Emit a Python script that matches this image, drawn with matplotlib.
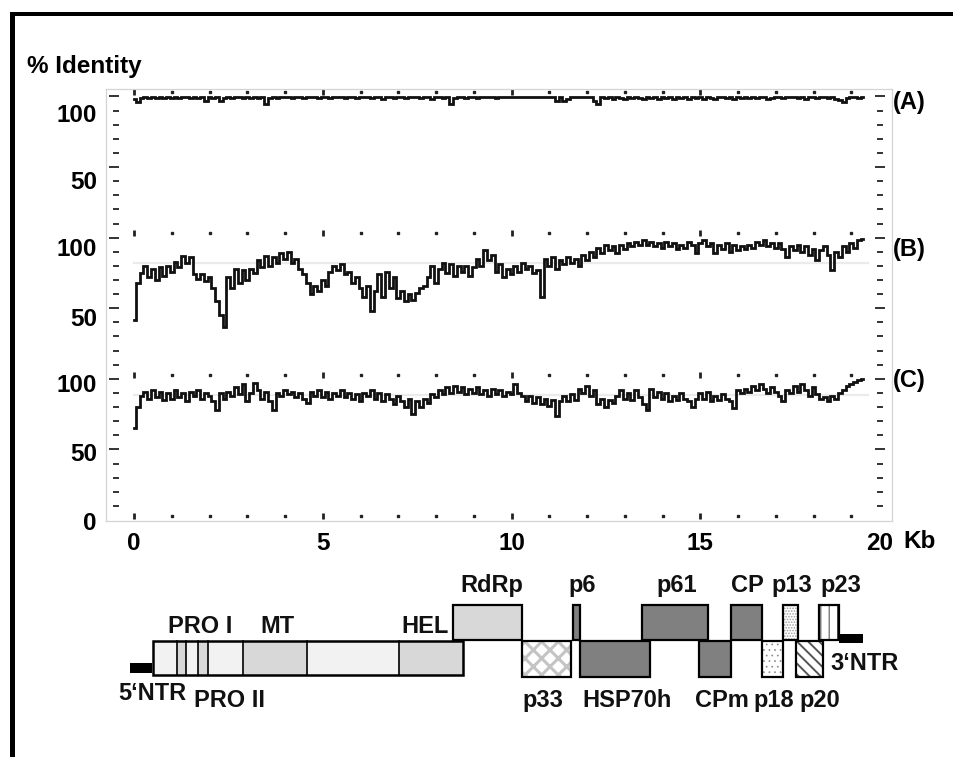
import numpy as np
import matplotlib
matplotlib.use("Agg")
import matplotlib.pyplot as plt
from matplotlib.patches import Rectangle
from matplotlib.transforms import ScaledTranslation

plt.rcParams['font.family'] = ['Liberation Sans', 'DejaVu Sans']
plt.rcParams['font.weight'] = 'bold'

# ---------------- data ----------------
STEP_KB = 0.1  # sliding-window step of the identity profiles

identity_A = [
    98, 96, 99, 99.5, 99, 99.5, 99, 99.5, 99, 99.5,
    99, 99.5, 99, 99.5, 99.5, 99, 99.5, 99, 99.5, 97,
    99.5, 99, 99.5, 97, 99, 99.5, 99, 99.5, 99.5, 99,
    99.5, 99, 99.5, 99, 99.5, 95, 99, 99.5, 99, 99.5,
    99.5, 99.5, 99, 99.5, 99.5, 99, 99.5, 99.5, 99.5, 99,
    99.5, 99.5, 99, 99.5, 99.5, 99.5, 99, 99.5, 99.5, 99,
    99.5, 99.5, 99.5, 99, 99.5, 99.5, 98.5, 99.5, 99.5, 99,
    99.5, 99.5, 99, 99.5, 99.5, 99.5, 99, 99.5, 99.5, 98.5,
    99.5, 99.5, 99, 99.5, 94.5, 99, 99.5, 99.5, 99, 99.5,
    99.5, 99, 99.5, 99.5, 99.5, 99.5, 99, 99.5, 99.5, 99.5,
    99.5, 99.5, 99.5, 99.5, 99.5, 99.5, 99.5, 99.5, 99.5, 99.5,
    99.5, 99.5, 97, 99.5, 96.5, 98, 99.5, 99.5, 99.5, 99.5,
    99.5, 99.5, 97, 95, 99.5, 99, 99.5, 98.5, 99.5, 99,
    98.5, 99.5, 99, 99.5, 99, 98.5, 99.5, 99, 99.5, 98.5,
    99.5, 99, 99.5, 98.5, 99.5, 99, 99.5, 98.5, 99.5, 99,
    99.5, 98.5, 99.5, 99, 98.5, 99.5, 99.5, 99, 99.5, 98.5,
    99.5, 99, 99.5, 99, 99.5, 99, 99.5, 99.5, 98.5, 99,
    99.5, 99.5, 99, 99.5, 99.5, 99.5, 99, 99.5, 98.5, 99.5,
    99.5, 99, 99.5, 99.5, 99, 99.5, 98.5, 97.5, 96, 99,
    99.5, 99.5, 99, 99.5,
]

identity_B = [
    42, 68, 75, 80, 72, 78, 70, 79, 73, 80,
    76, 83, 79, 87, 82, 86, 74, 71, 74, 69,
    72, 64, 55, 45, 37, 72, 64, 78, 68, 77,
    70, 78, 75, 84, 79, 87, 80, 86, 82, 89,
    85, 90, 82, 85, 78, 74, 68, 60, 66, 62,
    70, 66, 76, 80, 77, 81, 74, 76, 68, 72,
    64, 58, 66, 48, 62, 74, 58, 76, 64, 72,
    57, 62, 55, 60, 56, 61, 64, 66, 72, 80,
    68, 78, 82, 75, 81, 73, 80, 76, 80, 73,
    79, 85, 80, 91, 84, 88, 76, 81, 72, 78,
    74, 80, 76, 82, 78, 80, 75, 77, 58, 85,
    80, 86, 78, 84, 81, 86, 82, 85, 80, 88,
    84, 90, 86, 93, 89, 95, 91, 94, 89, 95,
    92, 96, 94, 97, 95, 98, 95, 97, 94, 96,
    93, 97, 94, 96, 92, 95, 93, 97, 95, 89,
    96, 98, 94, 96, 89, 95, 92, 96, 90, 95,
    91, 94, 92, 95, 93, 97, 95, 98, 94, 96,
    93, 96, 92, 86, 94, 91, 95, 90, 94, 88,
    92, 84, 91, 94, 88, 77, 90, 86, 94, 90,
    96, 93, 98, 99,
]

identity_C = [
    65, 80, 88, 91, 86, 92, 87, 91, 85, 90,
    86, 92, 87, 90, 84, 91, 88, 92, 86, 90,
    88, 84, 78, 90, 86, 91, 88, 94, 89, 96,
    84, 90, 97, 92, 86, 91, 84, 78, 90, 88,
    92, 89, 91, 87, 90, 86, 83, 91, 88, 92,
    87, 91, 86, 90, 88, 92, 87, 90, 86, 89,
    84, 90, 88, 92, 86, 90, 84, 89, 86, 82,
    88, 84, 80, 86, 75, 84, 80, 86, 83, 89,
    87, 92, 89, 94, 90, 95, 91, 94, 89, 93,
    90, 94, 89, 92, 88, 93, 89, 92, 88, 91,
    89, 96, 90, 88, 84, 88, 83, 87, 82, 86,
    81, 85, 74, 84, 88, 84, 89, 85, 93, 90,
    95, 88, 92, 82, 86, 80, 85, 83, 88, 92,
    86, 90, 85, 92, 87, 82, 78, 93, 87, 91,
    86, 90, 84, 88, 85, 90, 86, 84, 80, 86,
    90, 86, 91, 84, 88, 85, 89, 86, 84, 79,
    92, 90, 93, 91, 95, 92, 96, 93, 90, 94,
    91, 88, 84, 92, 90, 95, 91, 96, 92, 88,
    94, 89, 86, 87, 84, 88, 86, 90, 92, 95,
    96, 98, 99, 100,
]

mean_B = 82    # faint average lines
mean_C = 88.5

track_names = ['(A)', '(B)', '(C)']
track_offsets = [200, 100, 0]

ytick_labels = ['100', '50', '100', '50', '100', '50', '0']
xtick_values = [0, 5, 10, 15, 20]
xtick_labels = ['0', '5', '10', '15', '20']
kb_marks = list(range(0, 20))

# genome map (kb)
ntr5 = (-0.11, 0.48)
ntr3 = (18.68, 19.31)
orf1 = (0.50, 8.72)
orf1_domains = [(1.14, 1.38), (1.70, 1.96), (2.89, 4.58), (7.02, 8.72)]
orf1_dividers = [1.14, 1.38, 1.70, 1.96, 2.89, 4.58, 7.02]
gene_names  = ['RdRp', 'p33', 'p6', 'HSP70h', 'p61', 'CPm', 'CP', 'p18', 'p13', 'p20', 'p23']
gene_start  = [8.45, 10.28, 11.63, 11.81, 13.46, 14.97, 15.81, 16.64, 17.19, 17.54, 18.15]
gene_end    = [10.28, 11.58, 11.81, 13.67, 15.21, 15.81, 16.64, 17.19, 17.59, 18.25, 18.68]
gene_row    = ['up', 'low', 'up', 'low', 'up', 'low', 'up', 'low', 'up', 'low', 'up']

# ---------------- layout ----------------
W, H = 954, 757
PX0, PXKB = 134, 37.75     # pixel of 0 kb, pixels per kb
PXUNIT = 1.415             # pixels per % unit
FS = 17.5                  # main font size


def frac(x0, y0, x1, y1):
    return [x0 / W, 1 - y1 / H, (x1 - x0) / W, (y1 - y0) / H]


def kb(px):
    return (px - PX0) / PXKB


fig = plt.figure(figsize=(W / 100, H / 100), dpi=100)
fig.patch.set_facecolor('white')

# black frame (top / left)
fig.add_artist(Rectangle((10 / W, 1 - 16 / H), (W - 10) / W, 4 / H,
                         transform=fig.transFigure, color='black', lw=0))
fig.add_artist(Rectangle((10 / W, 0), 4.5 / W, 1 - 12 / H,
                         transform=fig.transFigure, color='black', lw=0))

ax = fig.add_axes(frac(106, 89, 892, 521))
ax.set_xlim(kb(106), kb(892))
ax.set_ylim(0, (521 - 89) / PXUNIT)
for s in ax.spines.values():
    s.set_color('#d4d4d4')
    s.set_linewidth(0.9)

# faint means
ax.plot([0, 19.45], [track_offsets[1] + mean_B] * 2, color='#ebebeb', lw=1.6, zorder=1)
ax.plot([0, 19.45], [track_offsets[2] + mean_C] * 2, color='#ebebeb', lw=1.6, zorder=1)

# profiles
for vals, off in zip([identity_A, identity_B, identity_C], track_offsets):
    v = np.asarray(vals, dtype=float)
    x = np.arange(len(v)) * STEP_KB
    ax.plot(x, v + off, drawstyle='steps-mid', color='#111111', lw=2.0, zorder=3,
            solid_joinstyle='miter')

# y tick dashes (left and right, inside the frame)
minor = [y for y in range(10, 301, 10) if y % 50]
major = [y for y in range(50, 301, 50)]
for xp, mjx in [(kb(116), kb(114)), (kb(879.5), kb(880))]:
    ax.plot([xp] * len(minor), minor, ls='none', marker='_', ms=3.8, mew=1.4, color='#333')
    ax.plot([mjx] * len(major), major, ls='none', marker='_', ms=7.5, mew=1.4, color='#333')

# kb marks on each track
for base in [3, 103, 203, 303]:
    small = [k for k in kb_marks if k % 5]
    big = [k for k in kb_marks if k % 5 == 0]
    ax.plot(small, [base] * len(small), ls='none', marker='s', ms=1.8, color='#222')
    ax.plot(big, [base] * len(big), ls='none', marker='|', ms=5, mew=2.0, color='#222')

ytick_pos = [(521 - p) / PXUNIT for p in [113, 180, 247, 318, 384, 453, 522]]
ax.set_yticks(ytick_pos, labels=ytick_labels)
ax.set_xticks(xtick_values, labels=xtick_labels)
ax.tick_params(axis='y', length=0, pad=6.5, labelsize=FS)
ax.tick_params(axis='x', length=0, pad=8.0, labelsize=FS)
for lab in ax.get_xticklabels() + ax.get_yticklabels():
    lab.set_fontweight('bold')
# the "20" label sits a little left of its tick, leaving room for "Kb"
last = ax.get_xticklabels()[-1]
last.set_transform(last.get_transform() + ScaledTranslation(-9 / 100, 0, fig.dpi_scale_trans))

fig.text(27 / W, 1 - 66 / H, '% Identity', fontsize=17.5, fontweight='bold', va='center', ha='left')
fig.text(903 / W, 1 - 542 / H, 'Kb', fontsize=FS, fontweight='bold', va='center', ha='left')
for name, ypx in zip(track_names, [102, 249, 380]):
    fig.text(893 / W, 1 - ypx / H, name, fontsize=17, fontweight='bold', va='center', ha='left')

# ---------------- genome map ----------------
gx = fig.add_axes(frac(106, 570, 892, 720))
gx.set_xlim(kb(106), kb(892))
gx.set_ylim(720, 570)
gx.axis('off')

ROWS = {'up': (605, 640), 'low': (641, 677), 'orf': (641, 675)}
LIGHT, MID, DARK = '#f2f2f2', '#d8d8d8', '#808080'


def box(x0, x1, row, fc='white', hatch=None, hcol='#888', hlw=1.0, lw=1.6, z=2):
    y0, y1 = ROWS[row]
    if hatch:
        with plt.rc_context({'hatch.linewidth': hlw}):
            gx.add_patch(Rectangle((x0, y0), x1 - x0, y1 - y0, facecolor=fc,
                                   edgecolor=hcol, hatch=hatch, lw=0, zorder=z))
        gx.add_patch(Rectangle((x0, y0), x1 - x0, y1 - y0, fill=False,
                               edgecolor='black', lw=lw, zorder=z + 0.1))
    else:
        gx.add_patch(Rectangle((x0, y0), x1 - x0, y1 - y0, facecolor=fc,
                               edgecolor='black', lw=lw, zorder=z))


# NTR bars
gx.add_patch(Rectangle((ntr5[0], 663), ntr5[1] - ntr5[0], 10, color='black', lw=0))
gx.add_patch(Rectangle((ntr3[0], 634), ntr3[1] - ntr3[0], 9, color='black', lw=0))

# ORF1 polyprotein
oy0, oy1 = ROWS['orf']
gx.add_patch(Rectangle((orf1[0], oy0), orf1[1] - orf1[0], oy1 - oy0, facecolor=LIGHT,
                       lw=0, zorder=2))
for s, e in orf1_domains:
    gx.add_patch(Rectangle((s, oy0), e - s, oy1 - oy0, facecolor=MID, lw=0, zorder=2.05))
for d in orf1_dividers:
    gx.plot([d, d], [oy0, oy1], color='black', lw=1.2, zorder=2.2)
gx.add_patch(Rectangle((orf1[0], oy0), orf1[1] - orf1[0], oy1 - oy0, fill=False,
                       edgecolor='black', lw=1.8, zorder=2.3))

styles = {
    'RdRp': dict(fc=MID),
    'p33': dict(hatch='xx', hcol='#c4c4c4', hlw=2.2),
    'p6': dict(fc=DARK),
    'HSP70h': dict(fc=DARK),
    'p61': dict(fc=DARK),
    'CPm': dict(fc=DARK),
    'CP': dict(fc=DARK),
    'p18': dict(hatch='...', hcol='#8a8a8a', hlw=0.5),
    'p13': dict(hatch='......', hcol='#a0a0a0', hlw=0.8),
    'p20': dict(hatch='\\\\\\', hcol='#555', hlw=1.4),
    'p23': dict(hatch='||', hcol='#444', hlw=0.7),
}
for i, (n, s, e, r) in enumerate(zip(gene_names, gene_start, gene_end, gene_row)):
    box(s, e, r, z=3 + i * 0.2, **styles[n])

# labels (x centre in px, baseline y in px)
labels = [
    ('PRO I', 200, 633, 'center'), ('MT', 277, 633, 'center'), ('HEL', 425, 633, 'center'),
    ('RdRp', 492, 592, 'center'), ('p6', 582, 592, 'center'), ('p61', 677, 592, 'center'),
    ('CP', 747, 592, 'center'), ('p13', 792, 592, 'center'), ('p23', 841, 592, 'center'),
    ('5‘NTR', 152, 700, 'center'), ('PRO II', 230, 707, 'center'), ('p33', 543, 707, 'center'),
    ('HSP70h', 627, 707, 'center'), ('CPm', 722, 707, 'center'), ('p18', 774, 707, 'center'),
    ('p20', 820, 707, 'center'), ('3‘NTR', 830, 670, 'left'),
]
for t, xp, yp, ha in labels:
    gx.text(kb(xp), yp, t, fontsize=17, fontweight='bold', ha=ha, va='baseline',
            color='#111', zorder=10)

fig.savefig('out.png', dpi=100, facecolor='white')
